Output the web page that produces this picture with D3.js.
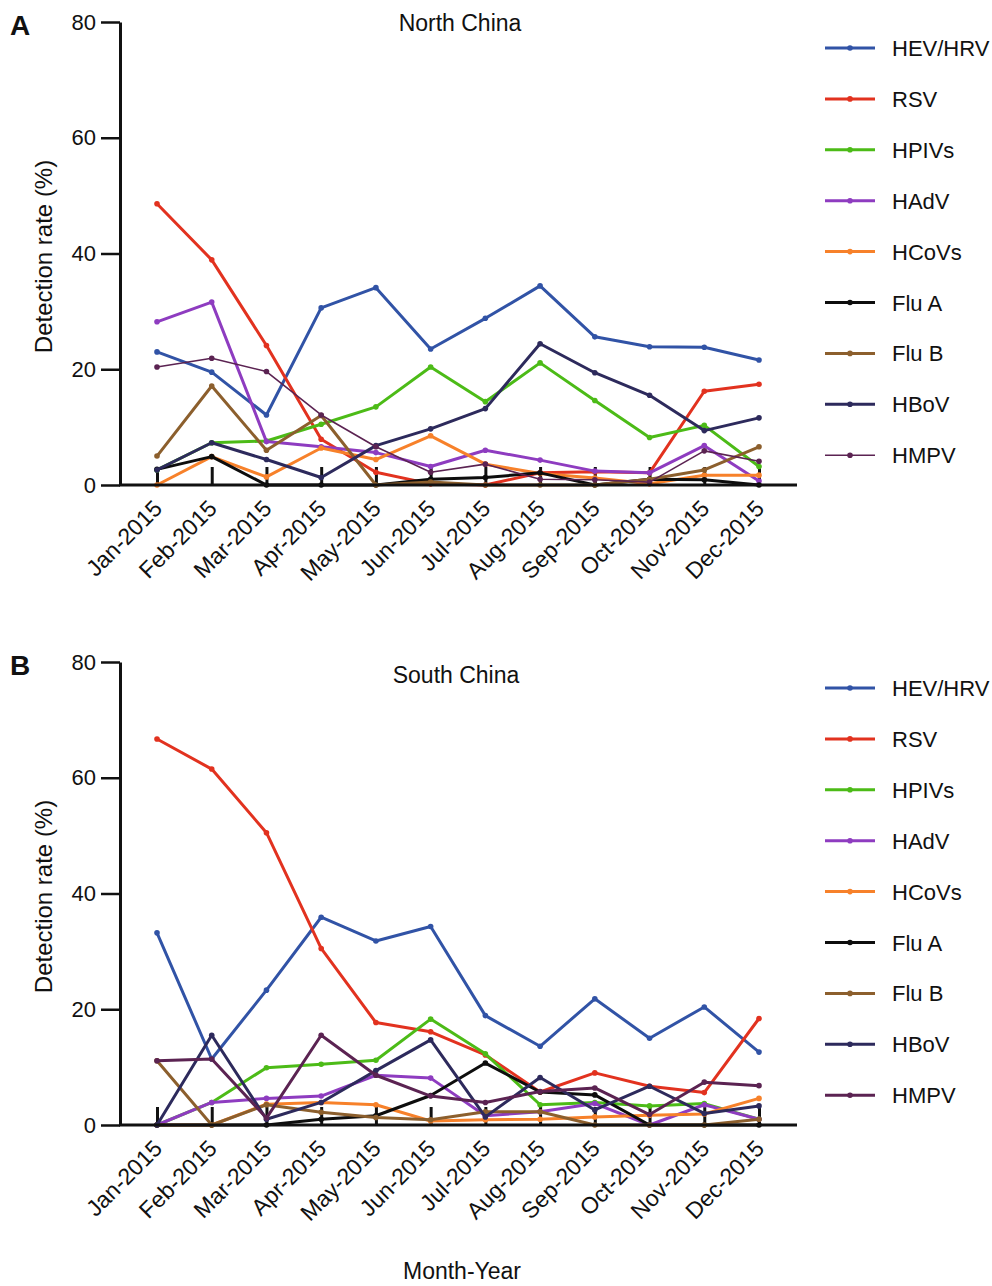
<!DOCTYPE html>
<html>
<head>
<meta charset="utf-8">
<script src="https://cdn.jsdelivr.net/npm/d3@7"></script>
<style>
  body { margin: 0; background: #fff; }
  svg text { font-family: "Liberation Sans", Arial, sans-serif; fill: #111; }
</style>
</head>
<body>
<div id="chart"></div>
<script>
const months = ['Jan-2015','Feb-2015','Mar-2015','Apr-2015','May-2015','Jun-2015',
  'Jul-2015','Aug-2015','Sep-2015','Oct-2015','Nov-2015','Dec-2015'];
const viruses = ['HEV/HRV','RSV','HPIVs','HAdV','HCoVs','Flu A','Flu B','HBoV','HMPV'];
const yTicks = [0, 20, 40, 60, 80];

// North China
const northHEV   = [23.0, 19.5, 12.1, 30.6, 34.1, 23.5, 28.8, 34.4, 25.6, 23.9, 23.8, 21.6];
const northRSV   = [48.6, 38.9, 24.1, 7.9, 2.2, 0.2, 0, 2.1, 2.3, 2.1, 16.2, 17.4];
const northHPIV  = [2.6, 7.3, 7.6, 10.5, 13.5, 20.4, 14.4, 21.1, 14.6, 8.2, 10.3, 3.2];
const northHAdV  = [28.2, 31.6, 7.5, 6.6, 5.6, 3.2, 6.0, 4.3, 2.4, 2.1, 6.8, 0.7];
const northHCoV  = [0, 4.9, 1.4, 6.4, 4.4, 8.5, 3.6, 2.0, 1.2, 0.2, 1.7, 1.7];
const northFluA  = [2.7, 4.9, 0, 0, 0, 1.0, 1.3, 2.1, 0, 1.0, 0.9, 0];
const northFluB  = [5.0, 17.1, 6.0, 12.0, 0, 0.5, 0, 0, 0, 1.0, 2.6, 6.6];
const northHBoV  = [2.6, 7.3, 4.4, 1.3, 6.8, 9.7, 13.2, 24.4, 19.4, 15.5, 9.4, 11.6];
const northHMPV  = [20.4, 21.9, 19.6, 12.1, 6.6, 2.2, 3.6, 1.0, 0.9, 0.5, 5.9, 4.1];

// South China
const southHEV   = [33.2, 11.4, 23.3, 35.9, 31.8, 34.3, 18.9, 13.6, 21.8, 15.0, 20.4, 12.6];
const southRSV   = [66.7, 61.5, 50.5, 30.5, 17.7, 16.1, 12.1, 5.7, 9.0, 6.7, 5.6, 18.4];
const southHPIV  = [0, 3.9, 9.9, 10.5, 11.2, 18.3, 12.3, 3.5, 3.9, 3.3, 3.7, 1.0];
const southHAdV  = [0, 3.9, 4.6, 5.0, 8.6, 8.1, 1.6, 2.3, 3.7, 0, 3.5, 1.0];
const southHCoV  = [0, 0, 3.6, 3.9, 3.5, 0.7, 0.9, 1.0, 1.4, 1.7, 1.9, 4.6];
const southFluA  = [0, 0, 0, 1.0, 1.6, 5.1, 10.7, 5.7, 5.2, 0, 0, 0];
const southFluB  = [11.1, 0, 3.5, 2.2, 1.3, 0.9, 2.3, 2.3, 0, 0, 0, 1.0];
const southHBoV  = [0, 15.5, 1.0, 3.9, 9.4, 14.7, 1.4, 8.2, 2.6, 6.7, 2.0, 3.3];
const southHMPV  = [11.1, 11.4, 1.2, 15.5, 8.6, 5.0, 3.9, 5.8, 6.4, 1.8, 7.4, 6.8];

const colors = ['#3153a6', '#e2321f', '#4cbb17', '#8e3cc0', '#f7812a',
  '#0d0d0d', '#8c5f2d', '#2d2a5c', '#5b2352'];

const width = 992, height = 1286;
const svg = d3.select('#chart').append('svg')
  .attr('width', width)
  .attr('height', height);

function drawPanel(opts) {
  const series = opts.series;
  const x = d3.scalePoint().domain(months).range([157, 759]);
  const y = d3.scaleLinear().domain([0, 80]).range([opts.bottom, opts.top]);
  const g = svg.append('g');

  // y axis
  const yAxis = g.append('g')
    .attr('transform', 'translate(120,0)')
    .call(d3.axisLeft(y).tickValues(yTicks).tickSize(19).tickSizeOuter(0));
  yAxis.select('.domain').attr('stroke', '#111').attr('stroke-width', 3);
  yAxis.selectAll('.tick line').attr('stroke', '#111').attr('stroke-width', 2.5);
  yAxis.selectAll('.tick text').attr('font-size', 22).attr('x', -24)
    .style('font-family', '"Liberation Sans", Arial, sans-serif');

  // x axis (ticks point inward)
  const xAxis = g.append('g')
    .attr('transform', `translate(0,${opts.bottom})`)
    .call(d3.axisBottom(x).tickSizeInner(-18).tickSizeOuter(0));
  xAxis.select('.domain').remove();
  xAxis.selectAll('.tick line').attr('stroke', '#111').attr('stroke-width', 3);
  xAxis.selectAll('.tick text')
    .attr('font-size', 23)
    .attr('text-anchor', 'end')
    .attr('dy', null)
    .attr('y', 0)
    .attr('transform', 'translate(6,25) rotate(-45)')
    .style('font-family', '"Liberation Sans", Arial, sans-serif');

  // lines
  const line = d3.line().x((d, i) => x(months[i])).y(d => y(d));
  series.forEach((vals, k) => {
    const sg = g.append('g');
    const thin = opts.thinHMPV && k === 8;
    sg.append('path')
      .datum(vals)
      .attr('d', line)
      .attr('fill', 'none')
      .attr('stroke', colors[k])
      .attr('stroke-width', thin ? 1.6 : 3)
      .attr('stroke-linejoin', 'round');
    sg.selectAll('circle')
      .data(vals)
      .enter()
      .append('circle')
      .attr('cx', (d, i) => x(months[i]))
      .attr('cy', d => y(d))
      .attr('r', 2.8)
      .attr('fill', colors[k]);
  });

  g.append('line')
    .attr('x1', 119).attr('x2', 797)
    .attr('y1', opts.bottom).attr('y2', opts.bottom)
    .attr('stroke', '#111').attr('stroke-width', 3);

  // title, panel letter, y label
  g.append('text').attr('x', opts.titleX).attr('y', opts.titleY)
    .attr('text-anchor', 'middle').attr('font-size', 23).text(opts.title);
  g.append('text').attr('x', 10).attr('y', opts.top + 13)
    .attr('font-size', 28).attr('font-weight', 'bold').text(opts.letter);
  g.append('text')
    .attr('transform', `translate(52,${(opts.top + opts.bottom) / 2 + 3}) rotate(-90)`)
    .attr('text-anchor', 'middle').attr('font-size', 24).text('Detection rate (%)');

  // legend
  const lg = g.append('g');
  viruses.forEach((name, k) => {
    const ly = opts.legendTop + k * 50.9;
    const thin = opts.thinHMPV && k === 8;
    lg.append('line').attr('x1', 825).attr('x2', 875).attr('y1', ly).attr('y2', ly)
      .attr('stroke', colors[k]).attr('stroke-width', thin ? 1.6 : 3);
    lg.append('circle').attr('cx', 850).attr('cy', ly).attr('r', 2.8).attr('fill', colors[k]);
    lg.append('text').attr('x', 892).attr('y', ly + 8).attr('font-size', 22).text(name);
  });
}

drawPanel({
  series: [northHEV, northRSV, northHPIV, northHAdV, northHCoV, northFluA, northFluB, northHBoV, northHMPV],
  top: 22, bottom: 485, title: 'North China', titleX: 460, titleY: 31, letter: 'A',
  legendTop: 48, thinHMPV: true
});
drawPanel({
  series: [southHEV, southRSV, southHPIV, southHAdV, southHCoV, southFluA, southFluB, southHBoV, southHMPV],
  top: 662, bottom: 1125, title: 'South China', titleX: 456, titleY: 683, letter: 'B',
  legendTop: 688, thinHMPV: false
});

svg.append('text').attr('x', 462).attr('y', 1279)
  .attr('text-anchor', 'middle').attr('font-size', 23).text('Month-Year');
</script>
</body>
</html>
